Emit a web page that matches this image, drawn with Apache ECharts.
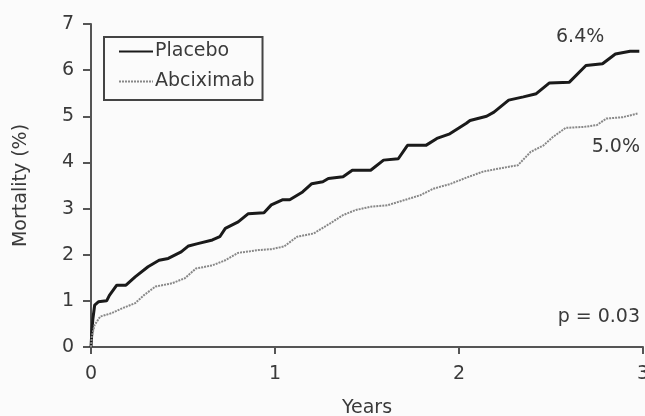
<!DOCTYPE html>
<html>
<head>
<meta charset="utf-8">
<script src="https://cdn.jsdelivr.net/npm/echarts@6/dist/echarts.min.js"></script>
<style>
  html, body { margin: 0; padding: 0; background: #fbfbfb; }
  #mainView { width: 645px; height: 416px; }
</style>
</head>
<body>
<div id="mainView"></div>
<script>
// Kaplan-Meier style mortality curves
var placeboYears = [0, 0.005, 0.01, 0.02, 0.04, 0.085, 0.10, 0.14, 0.19, 0.24, 0.31, 0.37, 0.42, 0.49, 0.53, 0.58, 0.66, 0.70, 0.73, 0.80, 0.855, 0.94, 0.98, 1.04, 1.08, 1.15, 1.20, 1.26, 1.29, 1.37, 1.42, 1.52, 1.59, 1.67, 1.72, 1.82, 1.88, 1.95, 2.04, 2.06, 2.15, 2.19, 2.27, 2.35, 2.42, 2.49, 2.60, 2.69, 2.78, 2.85, 2.93, 2.98];
var placeboMortality = [0, 0.35, 0.6, 0.91, 0.98, 1.0, 1.12, 1.34, 1.34, 1.52, 1.74, 1.88, 1.92, 2.06, 2.19, 2.24, 2.32, 2.39, 2.57, 2.71, 2.89, 2.91, 3.08, 3.19, 3.19, 3.36, 3.54, 3.58, 3.65, 3.69, 3.83, 3.83, 4.05, 4.08, 4.37, 4.37, 4.52, 4.62, 4.85, 4.91, 5.0, 5.09, 5.35, 5.42, 5.49, 5.72, 5.74, 6.10, 6.14, 6.35, 6.41, 6.41];

var abcixYears = [0, 0.004, 0.02, 0.05, 0.11, 0.17, 0.24, 0.29, 0.35, 0.44, 0.51, 0.57, 0.66, 0.73, 0.80, 0.91, 0.98, 1.05, 1.12, 1.21, 1.30, 1.37, 1.44, 1.52, 1.61, 1.70, 1.79, 1.86, 1.95, 2.04, 2.13, 2.22, 2.32, 2.39, 2.46, 2.51, 2.58, 2.68, 2.75, 2.80, 2.89, 2.97];
var abcixMortality = [0, 0.22, 0.48, 0.66, 0.73, 0.84, 0.95, 1.13, 1.31, 1.38, 1.49, 1.70, 1.77, 1.88, 2.04, 2.10, 2.12, 2.18, 2.39, 2.46, 2.68, 2.86, 2.97, 3.04, 3.07, 3.18, 3.29, 3.43, 3.53, 3.67, 3.80, 3.87, 3.94, 4.23, 4.37, 4.55, 4.75, 4.77, 4.81, 4.95, 4.98, 5.06];

var seriesNames = ['Placebo', 'Abciximab'];
var xTicks = [0, 1, 2, 3];
var yTicks = [0, 1, 2, 3, 4, 5, 6, 7];

function pairs(xs, ys) {
    var out = [];
    for (var i = 0; i < xs.length; i++) {
        out.push([xs[i], ys[i]]);
    }
    return out;
}

var font = 'DejaVu Sans';
var txt = '#3a3a3a';
var axisCol = '#555';

var chart = echarts.init(document.getElementById('mainView'));
chart.setOption({
    backgroundColor: '#fbfbfb',
    animation: false,
    textStyle: { fontFamily: font },
    grid: { left: 91, right: 2, top: 24, bottom: 69, containLabel: false, outerBoundsMode: 'none' },
    legend: {
        data: seriesNames,
        orient: 'vertical',
        left: 104,
        top: 37,
        padding: [5, 8, 9, 14],
        itemWidth: 34,
        itemHeight: 20,
        itemGap: 11,
        borderColor: '#444',
        borderWidth: 2,
        itemStyle: { opacity: 0 },
        textStyle: { fontFamily: font, fontSize: 19, color: txt, padding: [0, 0, 0, -3] }
    },
    xAxis: {
        type: 'value',
        min: xTicks[0],
        max: xTicks[xTicks.length - 1],
        interval: 1,
        name: 'Years',
        nameLocation: 'middle',
        nameGap: 52,
        nameTextStyle: { fontFamily: font, fontSize: 19, color: txt },
        axisLine: { lineStyle: { color: axisCol, width: 2 } },
        axisTick: { length: 7, lineStyle: { color: axisCol, width: 2 } },
        axisLabel: { margin: 18, fontFamily: font, fontSize: 19, color: txt },
        splitLine: { show: false }
    },
    yAxis: {
        type: 'value',
        min: yTicks[0],
        max: yTicks[yTicks.length - 1],
        interval: 1,
        name: 'Mortality (%)',
        nameLocation: 'middle',
        nameGap: 60,
        nameTextStyle: { fontFamily: font, fontSize: 19, color: txt },
        axisLine: { show: true, lineStyle: { color: axisCol, width: 2 } },
        axisTick: { show: true, length: 8, lineStyle: { color: axisCol, width: 2 } },
        axisLabel: { margin: 17, fontFamily: font, fontSize: 19, color: txt },
        splitLine: { show: false }
    },
    graphic: [
        { type: 'text', x: 556, y: 37, style: { text: '6.4%', font: '19px "DejaVu Sans"', fill: txt, align: 'left', verticalAlign: 'middle' } },
        { type: 'text', x: 640, y: 147, style: { text: '5.0%', font: '19px "DejaVu Sans"', fill: txt, align: 'right', verticalAlign: 'middle' } },
        { type: 'text', x: 640, y: 317, style: { text: 'p = 0.03', font: '19px "DejaVu Sans"', fill: txt, align: 'right', verticalAlign: 'middle' } }
    ],
    series: [
        {
            name: seriesNames[0],
            type: 'line',
            symbol: 'none',
            lineStyle: { color: '#1a1a1a', width: 3 },
            itemStyle: { color: '#1a1a1a' },
            data: pairs(placeboYears, placeboMortality)
        },
        {
            name: seriesNames[1],
            type: 'line',
            symbol: 'none',
            lineStyle: { color: '#888', width: 2, type: [2, 1] },
            itemStyle: { color: '#888' },
            data: pairs(abcixYears, abcixMortality)
        }
    ]
});
</script>
</body>
</html>
